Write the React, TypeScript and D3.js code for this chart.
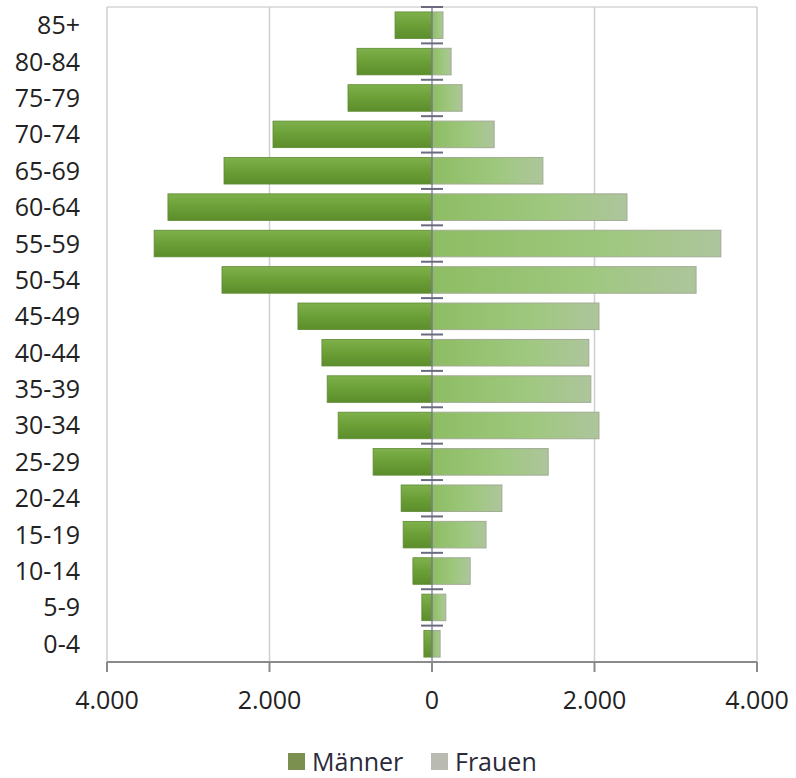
import React from "react";
import * as d3 from "d3";

const ageGroups = ["85+", "80-84", "75-79", "70-74", "65-69", "60-64", "55-59", "50-54", "45-49", "40-44", "35-39", "30-34", "25-29", "20-24", "15-19", "10-14", "5-9", "0-4"];
const maenner = [455, 923, 1034, 1957, 2560, 3250, 3420, 2585, 1650, 1355, 1290, 1155, 725, 380, 355, 235, 125, 100];
const frauen = [135, 235, 370, 765, 1365, 2400, 3555, 3250, 2055, 1930, 1955, 2055, 1430, 860, 665, 470, 170, 100];
const xTicks = [-4000, -2000, 0, 2000, 4000];
const seriesNames = ["Männer", "Frauen"];

const W = 796;
const H = 778;
const FONT = "'Open Sans', 'Liberation Sans', sans-serif";

export default function App() {
  const left = 107;
  const right = 757;
  const top = 7;
  const bottom = 662;
  const x = d3.scaleLinear().domain([-4000, 4000]).range([left, right]);
  const y = d3.scaleBand<string>().domain(ageGroups).range([top, bottom]).paddingInner(0.27).paddingOuter(0.135);
  const x0 = x(0);
  const step = y.step();
  const fmt = (v: number) => d3.format(",")(Math.abs(v)).replace(/,/g, ".");

  return (
    <svg width={W} height={H} style={{ position: "absolute", left: 0, top: 0, background: "#fff" }}>
      <defs>
        <linearGradient id="gm" x1="0" y1="0" x2="0" y2="1">
          <stop offset="0" stopColor="#7fb14c" />
          <stop offset="0.5" stopColor="#6b9f36" />
          <stop offset="1" stopColor="#5c8d2c" />
        </linearGradient>
        <linearGradient id="gf" x1="0" y1="0" x2="1" y2="0">
          <stop offset="0" stopColor="#8dbd63" />
          <stop offset="0.6" stopColor="#9fc87f" />
          <stop offset="1" stopColor="#adc59c" />
        </linearGradient>
      </defs>
      <rect x={0} y={0} width={W} height={H} fill="#fff" />
      {/* plot frame top */}
      <line x1={left} x2={right} y1={top} y2={top} stroke="#d6d6d6" strokeWidth={1.5} />
      {/* vertical gridlines */}
      {xTicks.filter((t) => t !== 0).map((t) => (
        <line key={t} x1={x(t)} x2={x(t)} y1={top} y2={bottom} stroke="#cfcfcf" strokeWidth={1.5} />
      ))}
      {/* bars */}
      {ageGroups.map((g, i) => (
        <g key={g}>
          <rect x={x(-maenner[i])} y={y(g)} width={x0 - x(-maenner[i])} height={y.bandwidth()} fill="url(#gm)" stroke="#5f8a33" strokeWidth={0.8} />
          <rect x={x0} y={y(g)} width={x(frauen[i]) - x0} height={y.bandwidth()} fill="url(#gf)" stroke="#a2ab94" strokeWidth={1} />
        </g>
      ))}
      {/* center axis */}
      <line x1={x0} x2={x0} y1={top} y2={bottom} stroke="#6f708a" strokeWidth={1.5} opacity={0.8} />
      {ageGroups.map((g, i) => (
        <line key={"t" + g} x1={x0 - 11} x2={x0 + 11} y1={top + i * step} y2={top + i * step} stroke="#6a6b80" strokeWidth={2} />
      ))}
      {/* category labels */}
      {ageGroups.map((g) => (
        <text key={"l" + g} x={80} y={(y(g) as number) + y.bandwidth() / 2} dy="0.36em" textAnchor="end" fontFamily={FONT} fontSize={25} fill="#222">
          {g}
        </text>
      ))}
      {/* bottom axis */}
      <line x1={left} x2={right} y1={bottom} y2={bottom} stroke="#8a8a8a" strokeWidth={2} />
      {xTicks.map((t) => (
        <g key={"x" + t}>
          <line x1={x(t)} x2={x(t)} y1={bottom} y2={bottom + 10} stroke="#8a8a8a" strokeWidth={2} />
          <text x={x(t)} y={700} dy="0.36em" textAnchor="middle" fontFamily={FONT} fontSize={25} fill="#222">
            {fmt(t)}
          </text>
        </g>
      ))}
      {/* legend */}
      <g>
        <rect x={288} y={753} width={17} height={17} fill="#7b8f4e" />
        <text x={312} y={761.5} dy="0.36em" fontFamily={FONT} fontSize={25} fill="#2a2a3a">{seriesNames[0]}</text>
        <rect x={431} y={753} width={17} height={17} fill="#b9bbb2" />
        <text x={455} y={761.5} dy="0.36em" fontFamily={FONT} fontSize={25} fill="#2a2a3a">{seriesNames[1]}</text>
      </g>
    </svg>
  );
}
